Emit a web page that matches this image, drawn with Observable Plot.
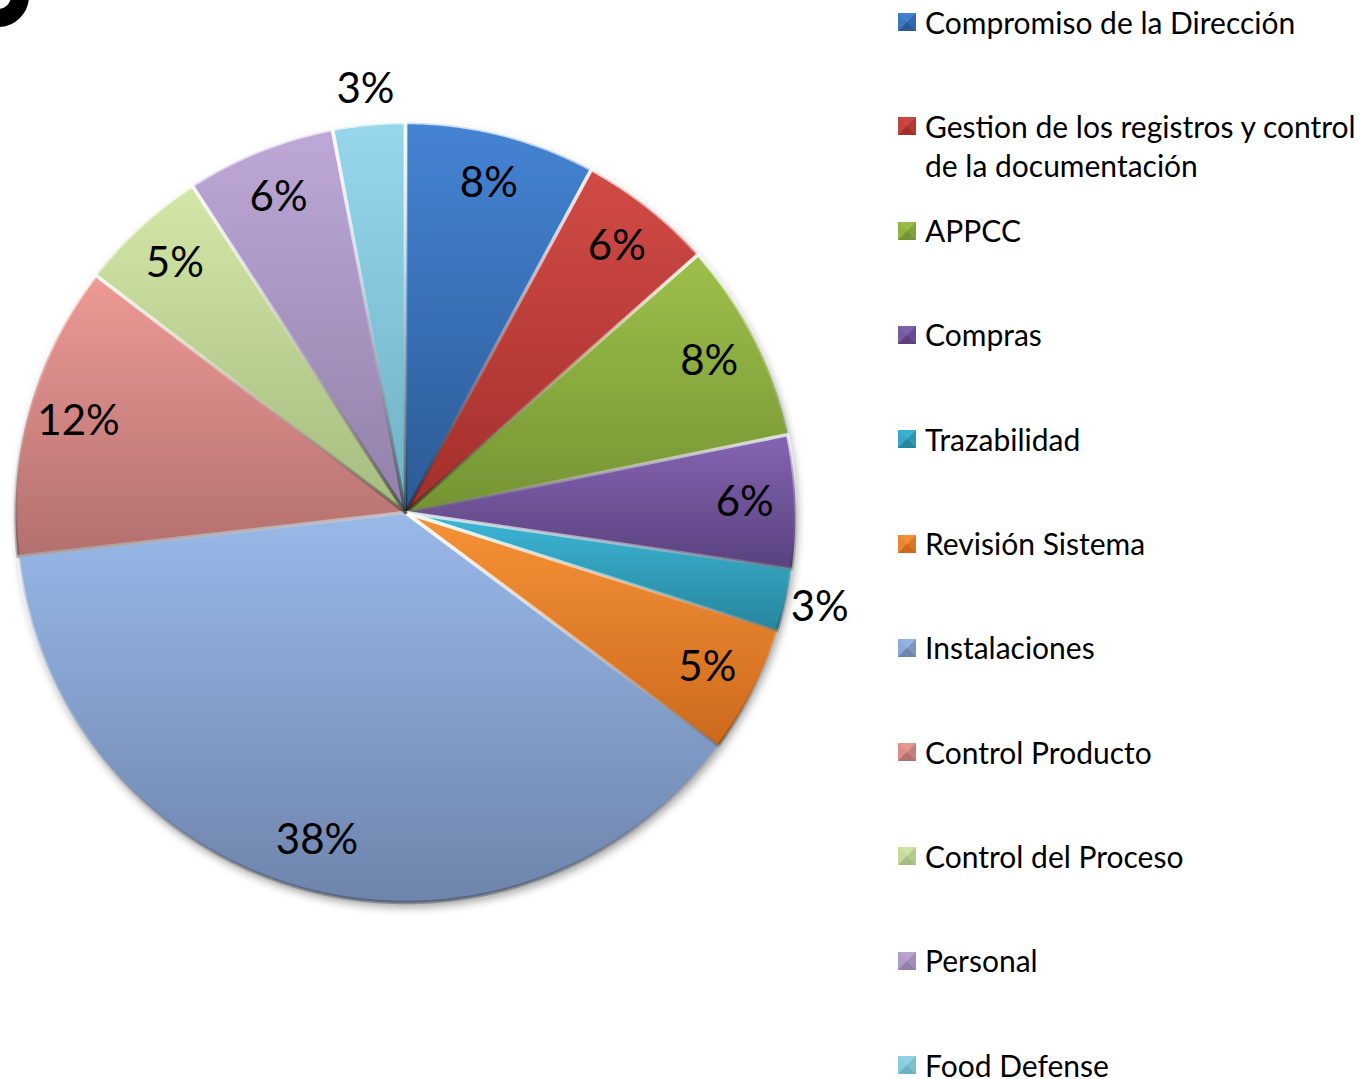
<!DOCTYPE html>
<html><head><meta charset="utf-8">
<script src="https://cdn.jsdelivr.net/npm/d3@7"></script>
<script src="https://cdn.jsdelivr.net/npm/@observablehq/plot@0.6"></script>
<style>
body{margin:0;background:#fff;width:1359px;height:1079px;overflow:hidden;position:relative;font-family:Lato,"Open Sans",sans-serif;}
#chart{position:absolute;left:0;top:0;}
.leg{position:absolute;left:898px;font-size:30px;line-height:39px;color:#000;display:flex;align-items:flex-start;width:461px;}
.leg span{display:block;width:434px;}
.sw{width:18px;height:18px;box-sizing:border-box;border-style:solid;border-width:9px;margin-top:10.5px;margin-right:9px;flex:none;}
.glyph{position:absolute;left:-33px;top:-35px;width:62px;height:62px;box-sizing:border-box;border:18px solid #000;border-radius:50%;}
</style></head><body>
<svg width="0" height="0" style="position:absolute"><defs id="defs"></defs></svg>
<div class="glyph"></div>
<div id="chart"></div><div id="legend"></div>
<script>
// ---- data ----
const categories = [
  "Compromiso de la Dirección",
  "Gestion de los registros y control de la documentación",
  "APPCC",
  "Compras",
  "Trazabilidad",
  "Revisión Sistema",
  "Instalaciones",
  "Control Producto",
  "Control del Proceso",
  "Personal",
  "Food Defense"
];
const shares = [7.9, 5.6, 8.3, 5.5, 2.6, 5.3, 38.0, 12.2, 5.4, 6.2, 3.0];

// ---- styles ----
const colorsTop    = ["#4584d4","#d24b46","#9dc04b","#8465b2","#3db7d7","#f69338","#99b9e9","#ee9a96","#d3e7a7","#bda8d7","#98d7eb"];
const colorsBottom = ["#2c5a95","#a22f2b","#749433","#59417e","#26859d","#cd691c","#6e84ab","#b2706e","#a5bc80","#9180a8","#6eb0c4"];

const W = 880, H = 1079, CX = 405, CY = 512, R = 390;

// gradients
const defs = d3.select("#defs");
categories.forEach((c, i) => {
  const g = defs.append("linearGradient").attr("id", "g" + i)
    .attr("x1", 0).attr("y1", 0).attr("x2", 0).attr("y2", 1);
  g.append("stop").attr("offset", 0).attr("stop-color", colorsTop[i]);
  g.append("stop").attr("offset", 1).attr("stop-color", colorsBottom[i]);
});
const hl = defs.append("linearGradient").attr("id", "hl")
  .attr("x1", 0).attr("y1", 0).attr("x2", 0).attr("y2", 1);
hl.append("stop").attr("offset", 0).attr("stop-color", "#fff").attr("stop-opacity", 0.75);
hl.append("stop").attr("offset", 0.45).attr("stop-color", "#fff").attr("stop-opacity", 0.2);
hl.append("stop").attr("offset", 1).attr("stop-color", "#000").attr("stop-opacity", 0.25);

// slices from data
let acc = 0;
const total = d3.sum(shares);
const slices = shares.map((v, i) => {
  const a0 = acc / total * 2 * Math.PI; acc += v;
  const a1 = acc / total * 2 * Math.PI;
  return {cat: categories[i], value: v, a0, a1, mid: (a0 + a1) / 2, label: Math.round(v) + "%"};
});
const outline = s => {
  const n = Math.max(2, Math.ceil((s.a1 - s.a0) / 0.004));
  const pts = [{x: 0, y: 0}];
  for (let k = 0; k <= n; k++) {
    const a = s.a0 + (s.a1 - s.a0) * k / n;
    pts.push({x: Math.sin(a), y: Math.cos(a)});
  }
  pts.push({x: 0, y: 0});
  return pts;
};
const circle = d3.range(0, 721).map(d => ({x: Math.sin(d * Math.PI / 360), y: Math.cos(d * Math.PI / 360)}));

const marks = [];
marks.push(Plot.line(circle, {x: "x", y: "y", fill: "#000", fillOpacity: 0.35, stroke: "none", dx: 2, dy: 5}));
slices.forEach((s, i) => marks.push(Plot.line(outline(s), {x: "x", y: "y", fill: `url(#g${i})`, stroke: "none"})));
slices.forEach((s, i) => marks.push(Plot.line(outline(s), {x: "x", y: "y", fill: "none", stroke: "url(#hl)", strokeWidth: 3.5})));
marks.push(Plot.text(slices, {
  x: s => Math.sin(s.mid) * (s.value < 4 ? 1.09 : 0.87),
  y: s => Math.cos(s.mid) * (s.value < 4 ? 1.09 : 0.87),
  text: "label", fontSize: 42, fontFamily: "Lato", fill: "#000"
}));

const plot = Plot.plot({
  width: W, height: H, margin: 0,
  x: {domain: [-CX / R, (W - CX) / R], axis: null},
  y: {domain: [-(H - CY) / R, CY / R], axis: null},
  style: {background: "transparent", overflow: "visible"},
  marks
});
const sh = plot.querySelector('g[aria-label="line"]');
if (sh) sh.style.filter = "blur(4px)";
document.getElementById("chart").appendChild(plot);

// legend
const legend = d3.select("#legend");
categories.forEach((c, i) => {
  const item = legend.append("div").attr("class", "leg").style("top", (22 + i * 104.3 - 19.5) + "px");
  const mid = d3.interpolateRgb(colorsTop[i], colorsBottom[i]);
  item.append("div").attr("class", "sw")
    .style("border-color", `${mid(0.1)} ${mid(0.65)} ${colorsBottom[i]} ${mid(0.3)}`);
  item.append("span").text(c);
});
</script>
</body></html>
